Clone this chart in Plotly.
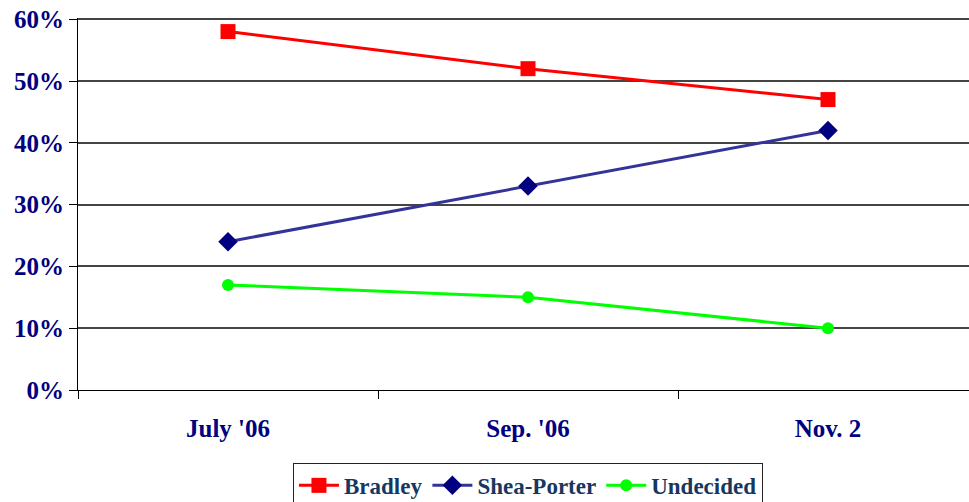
import plotly.graph_objects as go

categories = ["July '06", "Sep. '06", "Nov. 2"]
bradley = [0.58, 0.52, 0.47]
shea_porter = [0.24, 0.33, 0.42]
undecided = [0.17, 0.15, 0.10]
y_ticks = [0, 0.1, 0.2, 0.3, 0.4, 0.5, 0.6]
y_labels = ["0%", "10%", "20%", "30%", "40%", "50%", "60%"]

font_family = "Liberation Serif"
navy = "#000080"

fig = go.Figure()
fig.add_trace(go.Scatter(x=categories, y=bradley, name="<b>Bradley</b>", mode="lines+markers",
                         line=dict(color="#FF0000", width=3),
                         marker=dict(symbol="square", size=15, color="#FF0000")))
fig.add_trace(go.Scatter(x=categories, y=shea_porter, name="<b>Shea-Porter</b>", mode="lines+markers",
                         line=dict(color="#333399", width=3),
                         marker=dict(symbol="diamond", size=15, color=navy)))
fig.add_trace(go.Scatter(x=categories, y=undecided, name="<b>Undecided</b>", mode="lines+markers",
                         line=dict(color="#00FF00", width=3),
                         marker=dict(symbol="circle", size=12, color="#00FF00")))

fig.update_layout(
    width=969, height=502,
    margin=dict(l=78, r=0, t=18, b=112, autoexpand=False),
    paper_bgcolor="white", plot_bgcolor="white",
    showlegend=True,
    legend=dict(orientation="h", x=0.505, xanchor="center", y=-0.196, yanchor="top",
                font=dict(family=font_family, size=23, color="#17375E"),
                bordercolor="#222", borderwidth=1, bgcolor="white",
                itemwidth=40, tracegroupgap=0),
    xaxis=dict(type="category", range=[-0.5, 2.47], tickson="boundaries", automargin=False,
               ticks="outside", ticklen=8, tickcolor="black", tickwidth=1,
               showline=True, linecolor="black", linewidth=1, showgrid=False,
               ticklabelstandoff=16,
               tickfont=dict(family=font_family, size=25, color=navy)),
    yaxis=dict(range=[0, 0.602], tickvals=y_ticks, ticktext=[f"<b>{t}</b>" for t in y_labels],
               automargin=False, ticklabeloverflow="allow",
               ticks="outside", ticklen=8, tickcolor="black", tickwidth=1,
               showline=True, linecolor="black", linewidth=1,
               showgrid=True, gridcolor="#444", gridwidth=1.5, zeroline=False,
               tickfont=dict(family=font_family, size=25, color=navy)),
)
fig.update_xaxes(ticktext=[f"<b>{c}</b>" for c in categories], tickvals=categories)

fig.write_html("out.html", config={"displayModeBar": False},
               post_script="document.body.style.margin='0';")
